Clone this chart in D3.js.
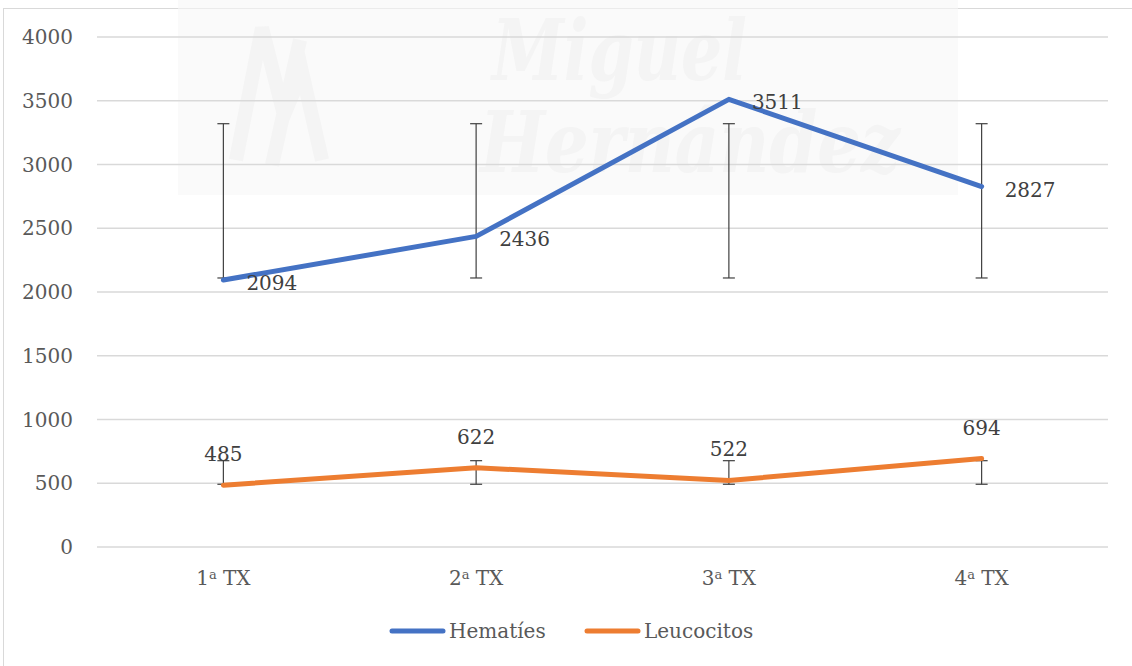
<!DOCTYPE html>
<html>
<head>
<meta charset="utf-8">
<script src="https://d3js.org/d3.v7.min.js"></script>
<style>
  body { margin: 0; background: #fff; }
  svg text { font-family: "DejaVu Serif", "Liberation Serif", serif; }
</style>
</head>
<body>
<div id="chart"></div>
<script>
// categories and series
const categories = ["1ª TX", "2ª TX", "3ª TX", "4ª TX"];
const hematies = [2094, 2436, 3511, 2827];
const leucocitos = [485, 622, 522, 694];
// error bar ranges (same range for every point)
const hemErrLow = [2110, 2110, 2110, 2110];
const hemErrHigh = [3320, 3320, 3320, 3320];
const leuErrLow = [492, 492, 492, 492];
const leuErrHigh = [677, 677, 677, 677];
const yTicks = [0, 500, 1000, 1500, 2000, 2500, 3000, 3500, 4000];

const width = 1132, height = 666;
const margin = { left: 97, right: 24, top: 37, bottom: 119 };

const svg = d3.select("#chart").append("svg")
  .attr("width", width)
  .attr("height", height);

// chart frame
svg.append("rect")
  .attr("x", 3.5).attr("y", 8.5)
  .attr("width", width + 10).attr("height", height)
  .attr("fill", "#fff")
  .attr("stroke", "#d9d9d9");

// faint watermark behind the plot (it is a picture in the original)
const wm = svg.append("g").attr("opacity", 0.6);
wm.append("rect")
  .attr("x", 178).attr("y", 0).attr("width", 780).attr("height", 195)
  .attr("fill", "#f7f7f7");
wm.append("path")
  .attr("d", "M236,160 L262,28 L284,115 L302,72 L322,160 M272,165 L300,40")
  .attr("fill", "none").attr("stroke", "#ededed").attr("stroke-width", 14);
wm.append("text")
  .attr("x", 492).attr("y", 80)
  .attr("font-family", "Liberation Serif")
  .attr("font-size", 84).attr("font-style", "italic").attr("font-weight", "bold")
  .attr("textLength", 255).attr("lengthAdjust", "spacingAndGlyphs")
  .attr("fill", "#ededed")
  .text("Miguel");
wm.append("text")
  .attr("x", 480).attr("y", 172)
  .attr("font-family", "Liberation Serif")
  .attr("font-size", 84).attr("font-style", "italic").attr("font-weight", "bold")
  .attr("textLength", 420).attr("lengthAdjust", "spacingAndGlyphs")
  .attr("fill", "#ededed")
  .text("Hernández");

const x = d3.scaleBand()
  .domain(categories)
  .range([margin.left, width - margin.right]);

const y = d3.scaleLinear()
  .domain([0, 4000])
  .range([height - margin.bottom, margin.top]);

const cx = d => x(d) + x.bandwidth() / 2;

// gridlines
svg.append("g")
  .selectAll("line")
  .data(yTicks)
  .join("line")
  .attr("x1", margin.left).attr("x2", width - margin.right)
  .attr("y1", d => y(d)).attr("y2", d => y(d))
  .attr("stroke", "#d9d9d9")
  .attr("stroke-width", 1.5);

// y labels
svg.append("g")
  .selectAll("text")
  .data(yTicks)
  .join("text")
  .attr("x", 73)
  .attr("y", d => y(d))
  .attr("dy", "0.35em")
  .attr("text-anchor", "end")
  .attr("font-size", 20)
  .attr("fill", "#595959")
  .text(d => d);

// x labels (with superscript ª)
const xl = svg.append("g")
  .selectAll("text")
  .data(categories)
  .join("text")
  .attr("x", d => cx(d))
  .attr("y", 578)
  .attr("dy", "0.35em")
  .attr("text-anchor", "middle")
  .attr("font-size", 20)
  .attr("fill", "#595959");
xl.append("tspan").text(d => d.split("ª")[0]);
xl.append("tspan").attr("font-size", 13).attr("dy", "-0.45em").text("a");
xl.append("tspan").attr("dy", "0.3em").text(d => " " + d.split("ª ")[1]);

// error bars
function errorBars(low, high) {
  const g = svg.append("g").attr("stroke", "#404040").attr("stroke-width", 1.2);
  categories.forEach((c, i) => {
    g.append("line").attr("x1", cx(c)).attr("x2", cx(c)).attr("y1", y(low[i])).attr("y2", y(high[i]));
    g.append("line").attr("x1", cx(c) - 6).attr("x2", cx(c) + 6).attr("y1", y(low[i])).attr("y2", y(low[i]));
    g.append("line").attr("x1", cx(c) - 6).attr("x2", cx(c) + 6).attr("y1", y(high[i])).attr("y2", y(high[i]));
  });
}
errorBars(hemErrLow, hemErrHigh);
errorBars(leuErrLow, leuErrHigh);

// lines
const line = d3.line()
  .x((d, i) => cx(categories[i]))
  .y(d => y(d));

svg.append("path")
  .datum(hematies)
  .attr("d", line)
  .attr("fill", "none")
  .attr("stroke", "#4472C4")
  .attr("stroke-width", 5)
  .attr("stroke-linecap", "round")
  .attr("stroke-linejoin", "round");

svg.append("path")
  .datum(leucocitos)
  .attr("d", line)
  .attr("fill", "none")
  .attr("stroke", "#ED7D31")
  .attr("stroke-width", 5)
  .attr("stroke-linecap", "round")
  .attr("stroke-linejoin", "round");

// data labels
svg.append("g")
  .selectAll("text")
  .data(hematies)
  .join("text")
  .attr("x", (d, i) => cx(categories[i]) + 23)
  .attr("y", d => y(d) + 3)
  .attr("dy", "0.35em")
  .attr("font-size", 20)
  .attr("fill", "#404040")
  .text(d => d);

svg.append("g")
  .selectAll("text")
  .data(leucocitos)
  .join("text")
  .attr("x", (d, i) => cx(categories[i]))
  .attr("y", d => y(d) - 31)
  .attr("dy", "0.35em")
  .attr("text-anchor", "middle")
  .attr("font-size", 20)
  .attr("fill", "#404040")
  .text(d => d);

// legend
const legend = [
  { name: "Hematíes", color: "#4472C4", x: 390 },
  { name: "Leucocitos", color: "#ED7D31", x: 585 }
];
const lg = svg.append("g")
  .selectAll("g")
  .data(legend)
  .join("g")
  .attr("transform", d => `translate(${d.x},631)`);
lg.append("line")
  .attr("x1", 2).attr("x2", 53)
  .attr("stroke", d => d.color)
  .attr("stroke-width", 5)
  .attr("stroke-linecap", "round");
lg.append("text")
  .attr("x", 59)
  .attr("dy", "0.35em")
  .attr("font-size", 20)
  .attr("fill", "#595959")
  .text(d => d.name);
</script>
</body>
</html>
